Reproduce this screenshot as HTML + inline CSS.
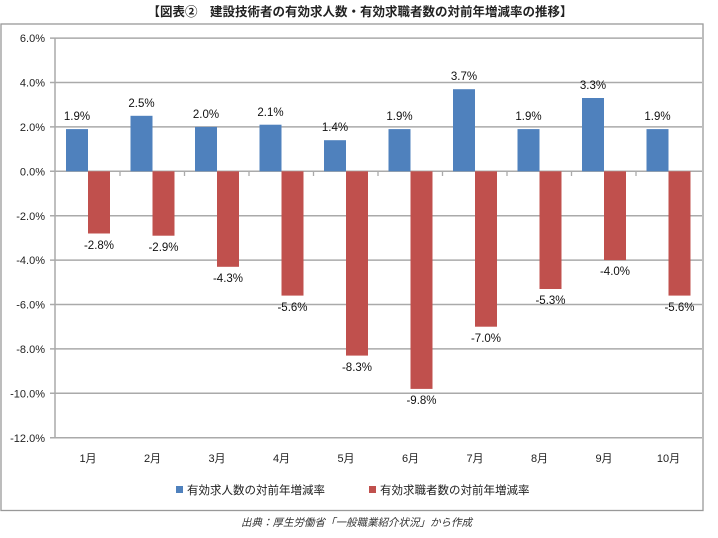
<!DOCTYPE html>
<html><head><meta charset="utf-8"><style>
body{margin:0;background:#fff;}
svg text{font-family:"Liberation Sans","Noto Sans CJK JP",sans-serif;}
</style></head><body>
<svg width="718" height="533" viewBox="0 0 718 533" xmlns="http://www.w3.org/2000/svg">
<text x="360" y="16" text-anchor="middle" font-size="12.5" font-weight="bold" fill="#222">【図表②　建設技術者の有効求人数・有効求職者数の対前年増減率の推移】</text>
<rect x="1" y="24" width="702" height="486.5" fill="#fff" stroke="#999" stroke-width="1.3"/>
<g stroke="#aaa" stroke-width="1.5">
<line x1="50" y1="38.1" x2="702" y2="38.1"/>
<line x1="50" y1="82.5" x2="702" y2="82.5"/>
<line x1="50" y1="126.9" x2="702" y2="126.9"/>
<line x1="50" y1="171.3" x2="702" y2="171.3"/>
<line x1="50" y1="215.7" x2="702" y2="215.7"/>
<line x1="50" y1="260.1" x2="702" y2="260.1"/>
<line x1="50" y1="304.5" x2="702" y2="304.5"/>
<line x1="50" y1="348.9" x2="702" y2="348.9"/>
<line x1="50" y1="393.3" x2="702" y2="393.3"/>
<line x1="50" y1="437.7" x2="702" y2="437.7"/>
<line x1="55" y1="38" x2="55" y2="438"/>
</g>
<g stroke="#aaa" stroke-width="1.3">
<line x1="120" y1="171" x2="120" y2="176"/><line x1="184.5" y1="171" x2="184.5" y2="176"/><line x1="249" y1="171" x2="249" y2="176"/><line x1="313.5" y1="171" x2="313.5" y2="176"/><line x1="378" y1="171" x2="378" y2="176"/><line x1="442.5" y1="171" x2="442.5" y2="176"/><line x1="507" y1="171" x2="507" y2="176"/><line x1="571.5" y1="171" x2="571.5" y2="176"/><line x1="636" y1="171" x2="636" y2="176"/>
</g>
<g font-size="11" fill="#222" text-anchor="end">
<text x="45" y="42">6.0%</text><text x="45" y="86.5">4.0%</text><text x="45" y="131">2.0%</text><text x="45" y="175.5">0.0%</text><text x="45" y="220">-2.0%</text><text x="45" y="264">-4.0%</text><text x="45" y="308.5">-6.0%</text><text x="45" y="353">-8.0%</text><text x="45" y="397.5">-10.0%</text><text x="45" y="442">-12.0%</text>
</g>
<g font-size="11" fill="#222" text-anchor="middle">
<text x="88" y="462">1月</text><text x="152.5" y="462">2月</text><text x="217" y="462">3月</text><text x="281.5" y="462">4月</text><text x="346" y="462">5月</text><text x="410.5" y="462">6月</text><text x="475" y="462">7月</text><text x="539.5" y="462">8月</text><text x="604" y="462">9月</text><text x="668.5" y="462">10月</text>
</g>
<rect x="176" y="486" width="7" height="7" fill="#4f81bd"/>
<text x="187" y="494" font-size="11.5" fill="#222">有効求人数の対前年増減率</text>
<rect x="369" y="486" width="7" height="7" fill="#c0504d"/>
<text x="380" y="494" font-size="11.5" fill="#222">有効求職者数の対前年増減率</text>
<text x="241" y="526" font-size="10.5" font-style="italic" fill="#333">出典：厚生労働省「一般職業紹介状況」から作成</text>
<g font-size="11.5" fill="#111" text-anchor="middle">
<rect x="66" y="129.1" width="22" height="42.2" fill="#4f81bd"/><text x="77" y="120">1.9%</text>
<rect x="88" y="171.3" width="22" height="62.2" fill="#c0504d"/><text x="99" y="249">-2.8%</text>
<rect x="130.5" y="115.8" width="22" height="55.5" fill="#4f81bd"/><text x="141.5" y="107">2.5%</text>
<rect x="152.5" y="171.3" width="22" height="64.4" fill="#c0504d"/><text x="163.5" y="251">-2.9%</text>
<rect x="195" y="126.9" width="22" height="44.4" fill="#4f81bd"/><text x="206" y="118">2.0%</text>
<rect x="217" y="171.3" width="22" height="95.5" fill="#c0504d"/><text x="228" y="282">-4.3%</text>
<rect x="259.5" y="124.7" width="22" height="46.6" fill="#4f81bd"/><text x="270.5" y="116">2.1%</text>
<rect x="281.5" y="171.3" width="22" height="124.3" fill="#c0504d"/><text x="292.5" y="311">-5.6%</text>
<rect x="324" y="140.2" width="22" height="31.1" fill="#4f81bd"/><text x="335" y="131">1.4%</text>
<rect x="346" y="171.3" width="22" height="184.3" fill="#c0504d"/><text x="357" y="371">-8.3%</text>
<rect x="388.5" y="129.1" width="22" height="42.2" fill="#4f81bd"/><text x="399.5" y="120">1.9%</text>
<rect x="410.5" y="171.3" width="22" height="217.6" fill="#c0504d"/><text x="421.5" y="404">-9.8%</text>
<rect x="453" y="89.2" width="22" height="82.1" fill="#4f81bd"/><text x="464" y="80">3.7%</text>
<rect x="475" y="171.3" width="22" height="155.4" fill="#c0504d"/><text x="486" y="342">-7.0%</text>
<rect x="517.5" y="129.1" width="22" height="42.2" fill="#4f81bd"/><text x="528.5" y="120">1.9%</text>
<rect x="539.5" y="171.3" width="22" height="117.7" fill="#c0504d"/><text x="550.5" y="304">-5.3%</text>
<rect x="582" y="98" width="22" height="73.3" fill="#4f81bd"/><text x="593" y="89">3.3%</text>
<rect x="604" y="171.3" width="22" height="88.8" fill="#c0504d"/><text x="615" y="275">-4.0%</text>
<rect x="646.5" y="129.1" width="22" height="42.2" fill="#4f81bd"/><text x="657.5" y="120">1.9%</text>
<rect x="668.5" y="171.3" width="22" height="124.3" fill="#c0504d"/><text x="679.5" y="311">-5.6%</text>
</g>
</svg>
</body></html>
